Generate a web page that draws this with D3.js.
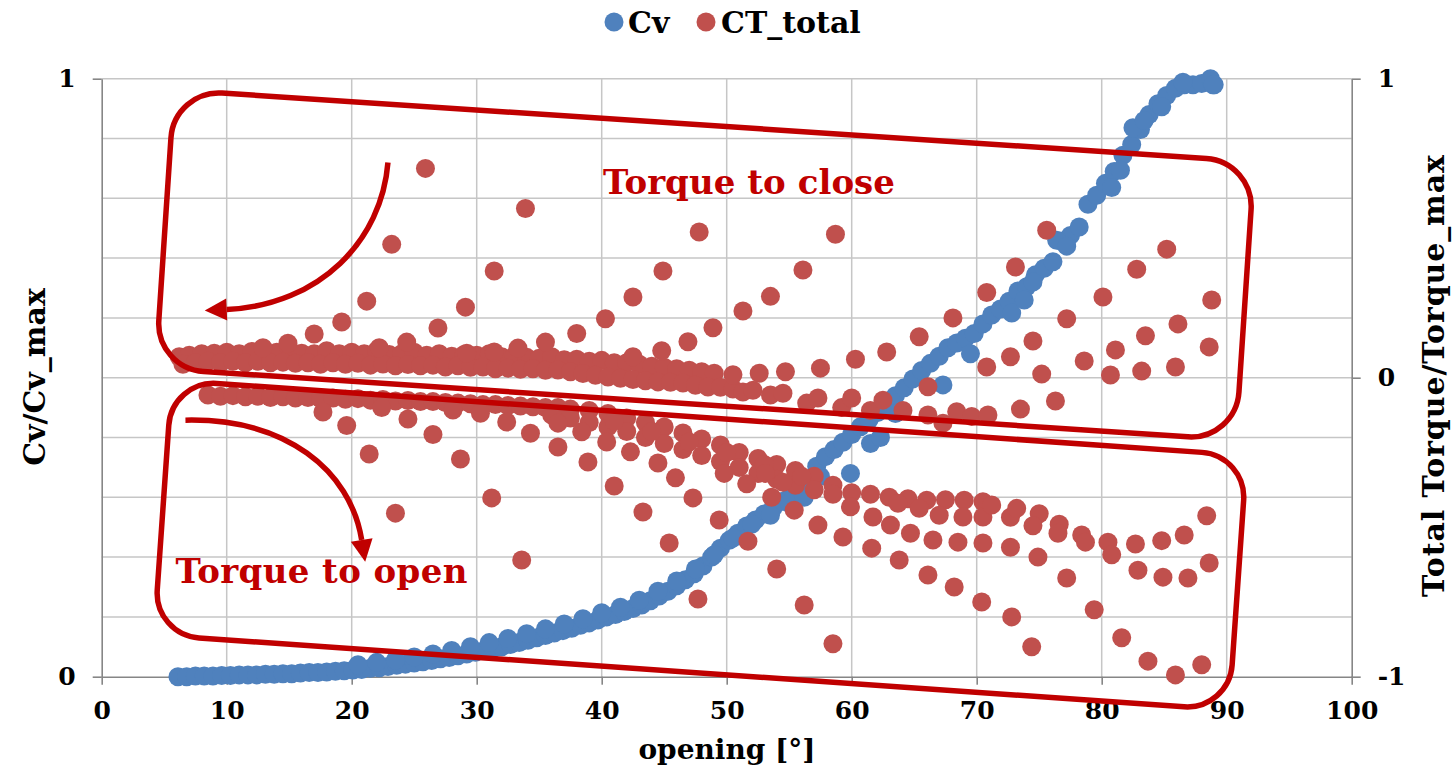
<!DOCTYPE html>
<html><head><meta charset="utf-8">
<script src="https://cdn.jsdelivr.net/npm/d3@7"></script>
<style>body{margin:0;background:#fff}svg{display:block}</style>
</head><body><svg id="c" width="1452" height="769"></svg>
<script>
// ---------- DATA ----------
const xTicks = [0,10,20,30,40,50,60,70,80,90,100];
const leftTicks = [0,1];
const rightTicks = [-1,0,1];
const gridX = [10,20,30,40,50,60,70,80,90];
const gridY = [0.1,0.2,0.3,0.4,0.5,0.6,0.7,0.8,0.9];
const seriesNames = ["Cv","CT_total"];

// Cv / Cv_max : [opening, value]
const cvMain = [[6.1,0],[6.8,0],[7.5,0.001],[8.2,0.001],[8.9,0.001],[9.6,0.002],[10.3,0.002],[11,0.003],[11.7,0.003],[12.4,0.003],[13.1,0.004],[13.8,0.004],[14.5,0.005],[15.2,0.005],[15.9,0.006],[16.6,0.007],[17.3,0.007],[18,0.008],[18.7,0.009],[19.4,0.01],[20.1,0.011],[20.8,0.012],[21.5,0.014],[22.2,0.015],[22.9,0.017],[23.6,0.019],[24.3,0.021],[25,0.023],[25.7,0.025],[26.4,0.027],[27.1,0.03],[27.8,0.032],[28.5,0.035],[29.2,0.038],[29.9,0.041],[30.6,0.044],[31.3,0.047],[32,0.05],[32.7,0.054],[33.4,0.057],[34.1,0.061],[34.8,0.065],[35.5,0.069],[36.2,0.073],[36.9,0.077],[37.6,0.081],[38.3,0.086],[39,0.09],[39.7,0.095],[40.4,0.1],[41.1,0.104],[41.8,0.109],[42.5,0.114],[43.2,0.12],[43.9,0.127],[44.6,0.135],[45.3,0.143],[46,0.152],[46.7,0.162],[47.4,0.172],[48.1,0.185],[48.8,0.2],[49.5,0.215],[50.2,0.228],[50.9,0.24],[51.6,0.252],[52.3,0.262],[53,0.272],[53.7,0.282],[54.4,0.293],[55.1,0.302],[55.8,0.31],[56.5,0.33],[57.2,0.352],[57.9,0.368],[58.6,0.38],[59.3,0.392],[60,0.405],[60.7,0.418],[61.4,0.43],[62.1,0.442],[62.8,0.458],[63.5,0.47],[64.2,0.483],[64.9,0.498],[65.6,0.512],[66.3,0.524],[67,0.536],[67.7,0.55],[68.4,0.558],[69.1,0.566],[69.8,0.574],[70.5,0.59],[71.2,0.605],[71.9,0.615],[72.6,0.628],[73.3,0.645],[74,0.652],[74.7,0.672],[75.4,0.683],[76.1,0.694],[76.8,0.728],[77.5,0.738],[78.2,0.752],[78.9,0.79],[79.6,0.805],[80.3,0.825],[81,0.845],[81.7,0.872],[82.4,0.89],[83.1,0.915],[83.8,0.94],[84.5,0.958],[85.2,0.972],[85.9,0.984],[86.6,0.99],[87.3,0.99],[88,0.992],[88.7,1.0],[89,0.99]];
const cvSecond = [[20.5,0.02],[22,0.024],[23.5,0.028],[25,0.033],[26.5,0.038],[28,0.044],[29.5,0.05],[31,0.057],[32.5,0.064],[34,0.072],[35.5,0.08],[37,0.088],[38.5,0.097],[40,0.107],[41.5,0.116],[43,0.128],[44.5,0.143],[46,0.16],[47.5,0.18],[49,0.204],[50.5,0.232],[52,0.255],[53.5,0.27],[55,0.29],[56.2,0.3],[57.5,0.335],[59.9,0.34],[61.5,0.39],[62.3,0.4],[63.5,0.44],[67.3,0.488],[69.5,0.54],[72.8,0.608],[73.8,0.63],[74.5,0.66],[76.4,0.73],[77.2,0.72],[80.8,0.818],[81.5,0.847],[82.5,0.918],[83.4,0.93],[84.8,0.953],[86.5,0.994],[88.9,0.99]];

// CT_total (Torque/Torque_max) : [opening, value]
const ctBandTopA = [[6.2,0.07],[7,0.075],[8,0.08],[9,0.082],[10,0.085],[11,0.08],[12,0.088],[13,0.092],[14,0.085],[15,0.095],[16,0.082],[17,0.08],[18,0.09],[19,0.08],[20,0.085],[21,0.08],[22,0.09],[23,0.078],[24,0.08],[25,0.085],[26,0.075],[27,0.08],[28,0.072],[29,0.078],[30,0.075],[31,0.08],[32,0.07],[33,0.072],[34,0.068],[35,0.065],[36,0.07],[37,0.06],[38,0.062],[39,0.055],[40,0.058],[41,0.05],[42,0.05],[43,0.045],[44,0.038],[45,0.035],[46,0.03],[47,0.025],[48,0.02],[49,0.015]];
const ctBandTopB = [[6.5,0.045],[7.5,0.05],[8.5,0.055],[9.5,0.05],[10.5,0.055],[11.5,0.05],[12.5,0.055],[13.5,0.05],[14.5,0.052],[15.5,0.048],[16.5,0.05],[17.5,0.045],[18.5,0.05],[19.5,0.045],[20.5,0.048],[21.5,0.042],[22.5,0.046],[23.5,0.04],[24.5,0.044],[25.5,0.04],[26.5,0.042],[27.5,0.036],[28.5,0.04],[29.5,0.035],[30.5,0.036],[31.5,0.03],[32.5,0.032],[33.5,0.028],[34.5,0.03],[35.5,0.025],[36.5,0.026],[37.5,0.02],[38.5,0.014],[39.5,0.008],[40.5,0.002],[41.5,-0.002],[42.5,-0.006],[43.5,-0.01],[44.5,-0.014],[45.5,-0.015],[46.5,-0.018],[47.5,-0.025],[48.5,-0.031],[49.5,-0.032],[50.5,-0.038]];
const ctBandTopC = [[51.3,-0.048],[52.1,-0.042],[53.5,-0.058],[54.5,-0.052],[56.4,-0.085],[57.3,-0.068],[59.2,-0.1],[60,-0.068],[61.5,-0.11],[62.5,-0.075],[64.1,-0.11],[66.1,-0.03],[66.1,-0.125],[67.3,-0.152],[68.4,-0.114],[69.6,-0.13],[70.9,-0.125],[73.5,-0.105],[76.3,-0.078]];
const ctSweepsUp = [[12.9,0.1],[14.9,0.115],
 [17,0.146],[19.2,0.186],[21.2,0.256],[23.2,0.446],[25.9,0.7],
 [22.2,0.1],[24.4,0.119],[26.9,0.166],[29.1,0.236],[31.4,0.357],[33.9,0.566],
 [29.2,0.082],[31.4,0.086],[33.3,0.099],[35.5,0.119],[38,0.148],[40.3,0.197],[42.5,0.27],[44.9,0.357],[47.8,0.487],
 [42.5,0.07],[44.8,0.09],[46.9,0.12],[48.9,0.167],[51.3,0.223],[53.5,0.272],[56.1,0.36],[58.7,0.48],
 [50.5,0.01],[52.6,0.015],[54.7,0.02],[57.5,0.032],[60.3,0.062],[62.8,0.086],[65.4,0.137],[68.1,0.2],[70.8,0.285],[73.1,0.37],[75.6,0.493],
 [70.8,0.036],[72.7,0.07],[74.5,0.123],[77.2,0.197],[80.1,0.27],[82.8,0.363],[85.2,0.43],
 [75.2,0.012],[78.6,0.056],[81.1,0.093],[83.5,0.14],[86.1,0.18],[88.8,0.26],
 [80.7,0.009],[83.2,0.022],[85.9,0.036],[88.6,0.103]];
const ctBandLowA = [[8.5,-0.058],[9.5,-0.062],[10.5,-0.06],[11.5,-0.064],[12.5,-0.062],[13.5,-0.066],[14.5,-0.064],[15.5,-0.068],[16.5,-0.066],[17.5,-0.07],[18.5,-0.068],[19.5,-0.072],[20.5,-0.07],[21.5,-0.075],[22.5,-0.073],[23.5,-0.078],[24.5,-0.076],[25.5,-0.08],[26.5,-0.08],[27.5,-0.083],[28.5,-0.085],[29.5,-0.087],[30.5,-0.09],[31.5,-0.09],[32.5,-0.093],[33.5,-0.095],[34.5,-0.097],[35.5,-0.1],[36.5,-0.1],[37.5,-0.105],[39,-0.11],[40.5,-0.12],[42,-0.135],[43.5,-0.15],[45,-0.165],[46.5,-0.185],[48,-0.205],[49.5,-0.225],[51,-0.25],[52.5,-0.27],[54,-0.29],[55.5,-0.31],[57,-0.33],[58.5,-0.36],[60,-0.385],[61.5,-0.39],[63,-0.4],[64.5,-0.405],[66,-0.41],[67.5,-0.408],[69,-0.41],[70.5,-0.415]];
const ctBandLowB = [[36,-0.125],[37.5,-0.135],[39,-0.15],[40.5,-0.165],[42,-0.18],[43.5,-0.2],[45,-0.22],[46.5,-0.24],[48,-0.26],[49.5,-0.28],[51,-0.3],[52.5,-0.32],[54,-0.34],[55.5,-0.36],[57,-0.375],[58.5,-0.39],[41,-0.145],[44,-0.18],[47,-0.215],[50,-0.25],[53,-0.29],[56,-0.33]];
const ctRowsEnd = [[59.9,-0.432],[61.7,-0.466],[63.7,-0.42],[65.4,-0.437],[67,-0.46],[68.9,-0.466],[70.5,-0.466],[71.2,-0.426],[72.7,-0.467],[73.2,-0.437],[75,-0.455],[76.6,-0.49],[78.4,-0.526],[80.5,-0.55],[82.7,-0.556],[84.8,-0.545],[86.6,-0.526],[88.4,-0.462],
 [63.1,-0.493],[64.7,-0.52],[66.5,-0.543],[68.5,-0.55],[70.5,-0.553],[72.7,-0.567],[74.5,-0.495],[76.5,-0.52],[78.7,-0.55],[80.8,-0.592],[82.9,-0.644],[84.9,-0.667],[86.9,-0.67],[88.6,-0.62]];
const ctSweepsDown = [[17.7,-0.115],[19.6,-0.16],[21.4,-0.255],[23.5,-0.453],
 [22.4,-0.1],[24.5,-0.138],[26.5,-0.19],[28.7,-0.272],[31.2,-0.402],[33.6,-0.61],
 [28.1,-0.108],[30.3,-0.119],[32.4,-0.148],[34.3,-0.186],[36.5,-0.232],[38.9,-0.282],[41,-0.362],[43.3,-0.449],[45.4,-0.553],[47.7,-0.74],
 [36.5,-0.152],[38.4,-0.181],[40.4,-0.215],[42.3,-0.248],[44.5,-0.285],[45.9,-0.335],[47.3,-0.402],[49.4,-0.476],[51.7,-0.547],[54,-0.64],[56.2,-0.76],[58.5,-0.89],
 [49.8,-0.32],[51.6,-0.355],[53.6,-0.4],[55.4,-0.443],[57.3,-0.493],[59.3,-0.533],[61.6,-0.57],[63.8,-0.61],[66.1,-0.66],[68.2,-0.7],[70.4,-0.75],[72.8,-0.8],[74.4,-0.9],
 [53.1,-0.32],[54.5,-0.35],[74.9,-0.6],[77.2,-0.67],[79.4,-0.776],[81.6,-0.87],[83.7,-0.948],[85.9,-0.994],[88,-0.96]];

// annotations (data units: opening, CT)
const boxes = [
  {cx:48.26, cy:0.377, w:86.6, h:0.933, angle:3.8, r:48},
  {cx:47.9, cy:-0.56, w:86.2, h:0.853, angle:4.0, r:45}
];
const arrows = [
  [[22.9,0.72],[22.4,0.46],[17.5,0.243],[10.0,0.228]],
  [[6.7,-0.142],[14.7,-0.135],[19.9,-0.309],[20.8,-0.543]]
];
const notes = [
  {text:"Torque to close", x:40.1, y:0.615},
  {text:"Torque to open", x:5.9, y:-0.687}
];

// ---------- CHART ----------
const svg = d3.select('#c');
const FONT = '"DejaVu Serif", "Liberation Serif", serif';
const BLUE = '#4F81BD', RED = '#C0504D', DARK = '#C00000';
const x = d3.scaleLinear().domain([0,100]).range([101.7,1351.7]);
const yL = d3.scaleLinear().domain([0,1]).range([676.7,78.7]);
const yR = d3.scaleLinear().domain([-1,1]).range([676.7,78.7]);
const plotTop = yL(1), plotBot = yL(0);

const grid = svg.append('g').attr('stroke','#C6C6C6').attr('stroke-width',1.5);
grid.selectAll('line.v').data(gridX).join('line').attr('class','v')
  .attr('x1',d=>x(d)).attr('x2',d=>x(d)).attr('y1',plotTop).attr('y2',plotBot);
grid.selectAll('line.h').data(gridY.concat([1])).join('line').attr('class','h')
  .attr('y1',d=>yL(d)).attr('y2',d=>yL(d)).attr('x1',x(0)).attr('x2',x(100));

function styleAxis(g){
  g.select('.domain').attr('stroke','#868686').attr('stroke-width',1.6);
  g.selectAll('.tick line').attr('stroke','#868686').attr('stroke-width',1.6);
  g.selectAll('text').attr('font-family',FONT).attr('font-weight','bold')
    .attr('font-size',25).attr('fill','#000');
}
const gx = svg.append('g').attr('transform',`translate(0,${plotBot})`)
  .call(d3.axisBottom(x).tickValues(xTicks).tickSize(8).tickSizeOuter(0));
styleAxis(gx); gx.selectAll('text').attr('y',42).attr('dy',0);
const gl = svg.append('g').attr('transform',`translate(${x(0)},0)`)
  .call(d3.axisLeft(yL).tickValues(leftTicks).tickSize(9).tickSizeOuter(0).tickFormat(d3.format('d')));
styleAxis(gl); gl.selectAll('text').attr('x',-26);
const gr = svg.append('g').attr('transform',`translate(${x(100)},0)`)
  .call(d3.axisRight(yR).tickValues(rightTicks).tickSize(9).tickSizeOuter(0).tickFormat(d=>d<0?'-'+Math.abs(d):d));
styleAxis(gr); gr.selectAll('text').attr('x',26);

const cvData = cvMain.concat(cvSecond);
const ctData = ctBandTopA.concat(ctBandTopB, ctBandTopC, ctSweepsUp, ctBandLowA, ctBandLowB, ctRowsEnd, ctSweepsDown);
const R = 9.5;
svg.append('g').selectAll('circle').data(cvData).join('circle')
  .attr('cx',d=>x(d[0])).attr('cy',d=>yL(d[1])).attr('r',R).attr('fill',BLUE);
svg.append('g').selectAll('circle').data(ctData).join('circle')
  .attr('cx',d=>x(d[0])).attr('cy',d=>yR(d[1])).attr('r',R).attr('fill',RED);

// annotations
const ann = svg.append('g');
boxes.forEach(b=>{
  const pw = x(b.w)-x(0), ph = yR(0)-yR(b.h);
  const cx = x(b.cx), cy = yR(b.cy);
  ann.append('rect').attr('x',cx-pw/2).attr('y',cy-ph/2).attr('width',pw).attr('height',ph)
    .attr('rx',b.r).attr('ry',b.r).attr('fill','none').attr('stroke',DARK).attr('stroke-width',5.5)
    .attr('transform',`rotate(${b.angle},${cx},${cy})`);
});
const HL = 22, HW = 11;
arrows.forEach(a=>{
  const p = a.map(d=>[x(d[0]), yR(d[1])]);
  ann.append('path').attr('d',`M${p[0]}C${p[1]} ${p[2]} ${p[3]}`).attr('fill','none')
    .attr('stroke',DARK).attr('stroke-width',5.5);
  const dx = p[3][0]-p[2][0], dy = p[3][1]-p[2][1], L = Math.hypot(dx,dy);
  const ux = dx/L, uy = dy/L;
  const tip = [p[3][0]+ux*HL, p[3][1]+uy*HL];
  const b1 = [p[3][0]-uy*HW, p[3][1]+ux*HW], b2 = [p[3][0]+uy*HW, p[3][1]-ux*HW];
  ann.append('path').attr('d',`M${tip}L${b1}L${b2}Z`).attr('fill',DARK);
});
notes.forEach(n=>{
  ann.append('text').attr('x',x(n.x)).attr('y',yR(n.y)).text(n.text)
    .attr('font-family',FONT).attr('font-weight','bold').attr('font-size',34)
    .attr('fill',DARK).attr('textLength',292).attr('lengthAdjust','spacing');
});

// legend
const leg = svg.append('g').attr('font-family',FONT).attr('font-weight','bold').attr('font-size',30);
const legItems = [{name:seriesNames[0], c:BLUE, cx:614, tx:628},{name:seriesNames[1], c:RED, cx:706, tx:721}];
legItems.forEach(l=>{
  leg.append('circle').attr('cx',l.cx).attr('cy',22).attr('r',R).attr('fill',l.c);
  leg.append('text').attr('x',l.tx).attr('y',33).text(l.name).attr('fill','#000');
});

// axis titles
const tt = svg.append('g').attr('font-family',FONT).attr('font-weight','bold').attr('fill','#000').attr('text-anchor','middle');
tt.append('text').attr('x',727).attr('y',759).attr('font-size',28).text('opening [°]');
tt.append('text').attr('transform','translate(45,377) rotate(-90)').attr('font-size',30).text('Cv/Cv_max');
tt.append('text').attr('transform','translate(1444,376) rotate(-90)').attr('font-size',30).attr('textLength',442).attr('lengthAdjust','spacing').text('Total Torque/Torque_max');
</script></body></html>
